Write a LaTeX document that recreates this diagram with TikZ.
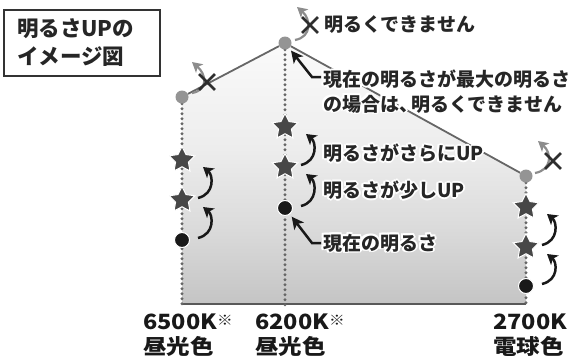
\documentclass[tikz,border=0pt]{standalone}
\usepackage{fontspec}
\setmainfont{Noto Sans CJK JP}
\newfontfamily\botfont{Noto Sans CJK JP}[FakeStretch=1.12]
\usetikzlibrary{arrows.meta,shapes.geometric,shapes.misc,backgrounds,calc}

\pgfdeclareverticalshading{areashade}{100bp}{color(0bp)=(black!46); color(20bp)=(black!26);
  color(40bp)=(black!14); color(55bp)=(black!7); color(75bp)=(black!2); color(100bp)=(white)}

\newcommand\halotxt[1]{%
  \setbox0=\hbox{#1}%
  \leavevmode
  \rlap{\color{white}\kern1.8pt\copy0}%
  \rlap{\color{white}\kern-1.8pt\copy0}%
  \rlap{\color{white}\raise1.8pt\copy0}%
  \rlap{\color{white}\lower1.8pt\copy0}%
  \rlap{\color{white}\kern1.3pt\raise1.3pt\copy0}%
  \rlap{\color{white}\kern-1.3pt\raise1.3pt\copy0}%
  \rlap{\color{white}\kern1.3pt\lower1.3pt\copy0}%
  \rlap{\color{white}\kern-1.3pt\lower1.3pt\copy0}%
  \copy0}
\newcommand\komesup{{\fontsize{14pt}{14pt}\mdseries\raisebox{4pt}{※}}}

\tikzset{
  lbl/.style={font=\fontsize{19pt}{25pt}\selectfont\bfseries, inner sep=0pt, anchor=west, text=black!85},
  blab/.style={font=\botfont\fontsize{21pt}{26pt}\selectfont\bfseries, inner sep=0pt, anchor=base west, text=black!90},
  titlebox/.style={draw=black!80, line width=1.3pt, font=\fontsize{21.5pt}{28pt}\selectfont\bfseries,
    text width=130pt, inner xsep=13pt, minimum height=66pt, align=left, text=black!85},
  graydot/.style={circle, fill=black!42, minimum size=13pt, inner sep=0pt},
  blackdot/.style={circle, fill=black!90, draw=white, line width=1pt, minimum size=15pt, inner sep=0pt},
  starnode/.style={star, star points=5, star point ratio=2.0, fill=black!72, draw=white,
    line width=1pt, minimum size=27pt, inner sep=0pt},
  dots/.style={draw=black!60, line width=3.2pt, line cap=round, dash pattern=on 0pt off 5pt},
  groundline/.style={draw=black!65, line width=2.2pt},
  envline/.style={draw=black!60, line width=1.8pt},
  uparrow/.style={draw=black!90, line width=2.5pt, -{Stealth[length=10pt,width=12pt,inset=2.5pt]}},
  grayarc/.style={draw=black!45, line width=2.2pt, -{Stealth[length=10pt,width=11pt,inset=2.5pt]}},
  xmark/.style={cross out, draw=black!82, line width=2.8pt, minimum size=13pt, inner sep=0pt},
  pointer/.style={draw=black!90, line width=2.5pt, shorten >=3pt, -{Stealth[length=12pt,width=12pt,inset=3pt]}},
}

\begin{document}
\begin{tikzpicture}[x=1pt,y=-1pt]
\useasboundingbox (0,0) rectangle (568,356);

% title box
\node[titlebox] (title) at (82,43) {明るさUPの\\イメージ図};

% column tops
\node[graydot] (L0) at (182,97) {};
\node[graydot] (M0) at (285,43) {};
\node[graydot] (R0) at (526,176) {};

% bottoms
\coordinate (Lb) at (182,307);
\coordinate (Mb) at (285,307);
\coordinate (Rb) at (526,307);
\coordinate (BL) at (182,304);
\coordinate (BR) at (526,304);

% stars and dots
\node[starnode] (Ls1) at (182,160) {};
\node[starnode] (Ls2) at (182,200) {};
\node[blackdot] (Ld) at (182,240) {};
\node[starnode] (Ms1) at (285,127) {};
\node[starnode] (Ms2) at (285,167) {};
\node[blackdot] (Md) at (285,208) {};
\node[starnode] (Rs1) at (526,207) {};
\node[starnode] (Rs2) at (526,247) {};
\node[blackdot] (Rd) at (526,286) {};

% gray arcs with X marks
\draw[grayarc] ($(L0)+(10,-4)$) .. controls +(17,-3) and +(14,12) .. ($(L0)+(10,-35)$);
\draw[grayarc] ($(M0)+(10,-3)$) .. controls +(17,-3) and +(14,12) .. ($(M0)+(12,-36)$);
\draw[grayarc] ($(R0)+(9,-3)$) .. controls +(17,-3) and +(14,12) .. ($(R0)+(12,-35)$);
\node[xmark] (Lx) at ($(L0)+(25,-15)$) {};
\node[xmark] (Mx) at ($(M0)+(25,-18)$) {};
\node[xmark] (Rx) at ($(R0)+(27,-15)$) {};

% labels
\node[lbl] (cant) at (324,25) {\halotxt{明るくできません}};
\node[lbl] (max1) at (323,79) {\halotxt{現在の明るさが最大の明るさ}};
\node[lbl] (max2) at (323,104) {\halotxt{の場合は、\kern-7pt明るくできません}};
\node[lbl] (more) at (323,153) {\halotxt{明るさがさらにUP}};
\node[lbl] (bit) at (323,190) {\halotxt{明るさが少しUP}};
\node[lbl] (cur) at (323,243) {\halotxt{現在の明るさ}};

% bottom labels
\node[blab] (k1) at (143,329) {6500K\komesup};
\node[blab] (c1) at (143,354) {昼光色};
\node[blab] (k2) at (255,329) {6200K\komesup};
\node[blab] (c2) at (255,354) {昼光色};
\node[blab] (k3) at (493,329) {2700K\komesup};
\node[blab] (c3) at (493,354) {電球色};

% curved up arrows
\draw[uparrow] ($(Ld)+(16,-2)$) .. controls +(17,-4) and +(10,8) .. ($(Ls2)+(21,7)$);
\draw[uparrow] ($(Ls2)+(16,-2)$) .. controls +(17,-4) and +(10,8) .. ($(Ls1)+(21,7)$);
\draw[uparrow] ($(Md)+(16,-2)$) .. controls +(17,-4) and +(10,8) .. ($(Ms2)+(21,7)$);
\draw[uparrow] ($(Ms2)+(16,-2)$) .. controls +(17,-4) and +(10,8) .. ($(Ms1)+(21,7)$);
\draw[uparrow] ($(Rd)+(16,-2)$) .. controls +(17,-4) and +(10,8) .. ($(Rs2)+(21,7)$);
\draw[uparrow] ($(Rs2)+(16,-2)$) .. controls +(17,-4) and +(10,8) .. ($(Rs1)+(21,7)$);

% pointers
\draw[pointer] ($(cur.west)+(-2,0)$) -- ++(-9,0) -- (Md);
\draw[pointer] ($(max1.west)+(-2,-2)$) -- ++(-9,0) -- (M0);

\begin{scope}[on background layer]
  \shade[shading=areashade]
    (182,97) -- (285,43) -- (526,176) -- (526,304) -- (182,304) -- cycle;
  \draw[groundline] (BL) -- (BR);
  \draw[dots] (L0) -- (Lb);
  \draw[dots] (M0) -- (Mb);
  \draw[dots] (R0) -- (Rb);
  \draw[envline] (L0) -- (M0);
  \draw[envline] (M0) -- (R0);
\end{scope}
\end{tikzpicture}
\end{document}
